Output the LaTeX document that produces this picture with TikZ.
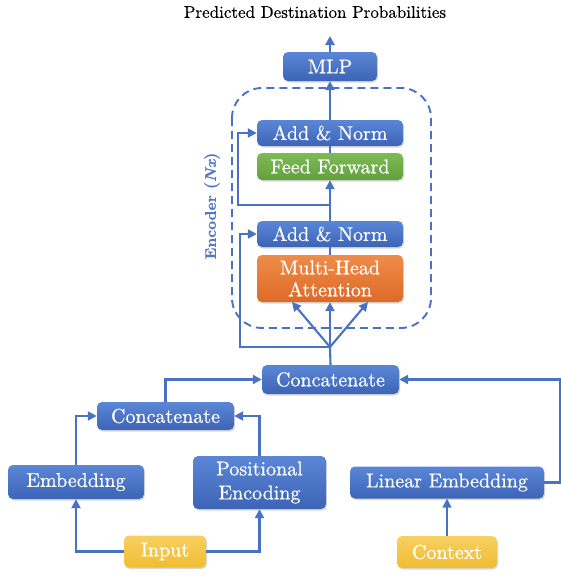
\documentclass[tikz,border=0pt]{standalone}
\usepackage{fontspec}
\newfontfamily\boxfont{lmroman10-regular.otf}[FakeBold=0.6]
\newfontfamily\titlefont{lmroman10-regular.otf}[FakeBold=0.3]
\newfontfamily\encfont{lmroman10-bold.otf}[FakeBold=0.5, ItalicFont=lmroman10-bolditalic.otf]
\usetikzlibrary{arrows.meta,shadows,calc}
\definecolor{lineblue}{HTML}{4A72C4}
\definecolor{bluetop}{HTML}{5B86D6}
\definecolor{bluebot}{HTML}{3D64B6}
\definecolor{greentop}{HTML}{7EBB56}
\definecolor{greenbot}{HTML}{62A03C}
\definecolor{orangetop}{HTML}{EF8C48}
\definecolor{orangebot}{HTML}{DC6A27}
\definecolor{yellowtop}{HTML}{F8D060}
\definecolor{yellowbot}{HTML}{F0BC33}
\definecolor{enclabel}{HTML}{5478C4}
\tikzset{
  box/.style={rounded corners=5pt, text=white, align=center, inner sep=0pt,
    font=\boxfont\fontsize{20}{23}\selectfont,
    drop shadow={opacity=0.3, shadow xshift=1pt, shadow yshift=-1.5pt}},
  bluebox/.style={box, top color=bluetop, bottom color=bluebot},
  greenbox/.style={box, top color=greentop, bottom color=greenbot},
  orangebox/.style={box, top color=orangetop, bottom color=orangebot},
  yellowbox/.style={box, top color=yellowtop, bottom color=yellowbot},
  conn/.style={draw=lineblue, line width=2.1pt},
  arr/.style={conn, -{Triangle[length=9pt,width=9pt]}},
}
\begin{document}
\begin{tikzpicture}[x=1pt,y=-1pt]
\useasboundingbox (0,0) rectangle (561,576);
\node (title) at (315,12) {\titlefont\fontsize{17}{20}\selectfont Predicted Destination Probabilities};
\draw[lineblue, line width=1.9pt, dash pattern=on 8pt off 5pt, rounded corners=30pt] (232,88) rectangle (431,328);
\node[text=enclabel, rotate=90] (enc) at (212,206) {\encfont\fontsize{15.5}{18}\selectfont Encoder ({\itshape Nx})};

\node[bluebox, minimum width=94pt, minimum height=29pt] (mlp) at (330,66.5) {MLP};
\node[bluebox, minimum width=146pt, minimum height=26pt] (an1) at (330,133) {Add \& Norm};
\node[greenbox, minimum width=146pt, minimum height=27pt] (ff) at (330,166.5) {Feed Forward};
\node[bluebox, minimum width=146pt, minimum height=26pt] (an2) at (330,234) {Add \& Norm};
\node[orangebox, minimum width=146pt, minimum height=47pt] (mha) at (330,278.5) {Multi-Head\\[-1pt]Attention};
\node[bluebox, minimum width=137pt, minimum height=29pt] (cat) at (330.5,379.5) {Concatenate};
\node[bluebox, minimum width=137pt, minimum height=28pt] (cat2) at (165.5,416) {Concatenate};
\node[bluebox, minimum width=136pt, minimum height=34pt] (emb) at (76,482) {Embedding};
\node[bluebox, minimum width=133pt, minimum height=53pt] (pe) at (259.5,482.5) {Positional\\[1pt]Encoding};
\node[bluebox, minimum width=194pt, minimum height=32pt] (le) at (447,482.5) {Linear Embedding};
\node[yellowbox, minimum width=82pt, minimum height=32pt] (inp) at (165,551.5) {Input};
\node[yellowbox, minimum width=100pt, minimum height=32pt] (ctx) at (447,552) {Context};

\coordinate (out) at (330,36);
\coordinate (r1) at (330,205);
\coordinate (r1L) at (238,205);
\coordinate (j) at (330,347);
\coordinate (jL) at (240,347);
\coordinate (m1) at (292,302);
\coordinate (m3) at (368,302);
\coordinate (rr) at (560,482.5);

\draw[arr] (mlp.north) -- (out);
\draw[arr] (an1.north) -- (mlp.south);
\draw[conn] (ff.north) -- (an1.south);
\draw[arr] (an2.north) -- (ff.south);
\draw[arr] (r1) -- (r1L) |- (an1.west);
\draw[conn] (mha.north) -- (an2.south);
\draw[conn] (cat.north) -- (j);
\draw[arr] (j) -- (mha.south);
\draw[arr] (j) -- (m1);
\draw[arr] (j) -- (m3);
\draw[arr] (j) -- (jL) |- (an2.west);
\draw[arr] (cat2.north) |- (cat.west);
\draw[arr] (emb.north) |- (cat2.west);
\draw[arr] (pe.north) |- (cat2.east);
\draw[arr] (inp.west) -| (emb.south);
\draw[arr] (inp.east) -| (pe.south);
\draw[arr, line width=1.6pt] (ctx.north) -- (le.south);
\draw[arr] (le.east) -- (rr) |- (cat.east);
\end{tikzpicture}
\end{document}
